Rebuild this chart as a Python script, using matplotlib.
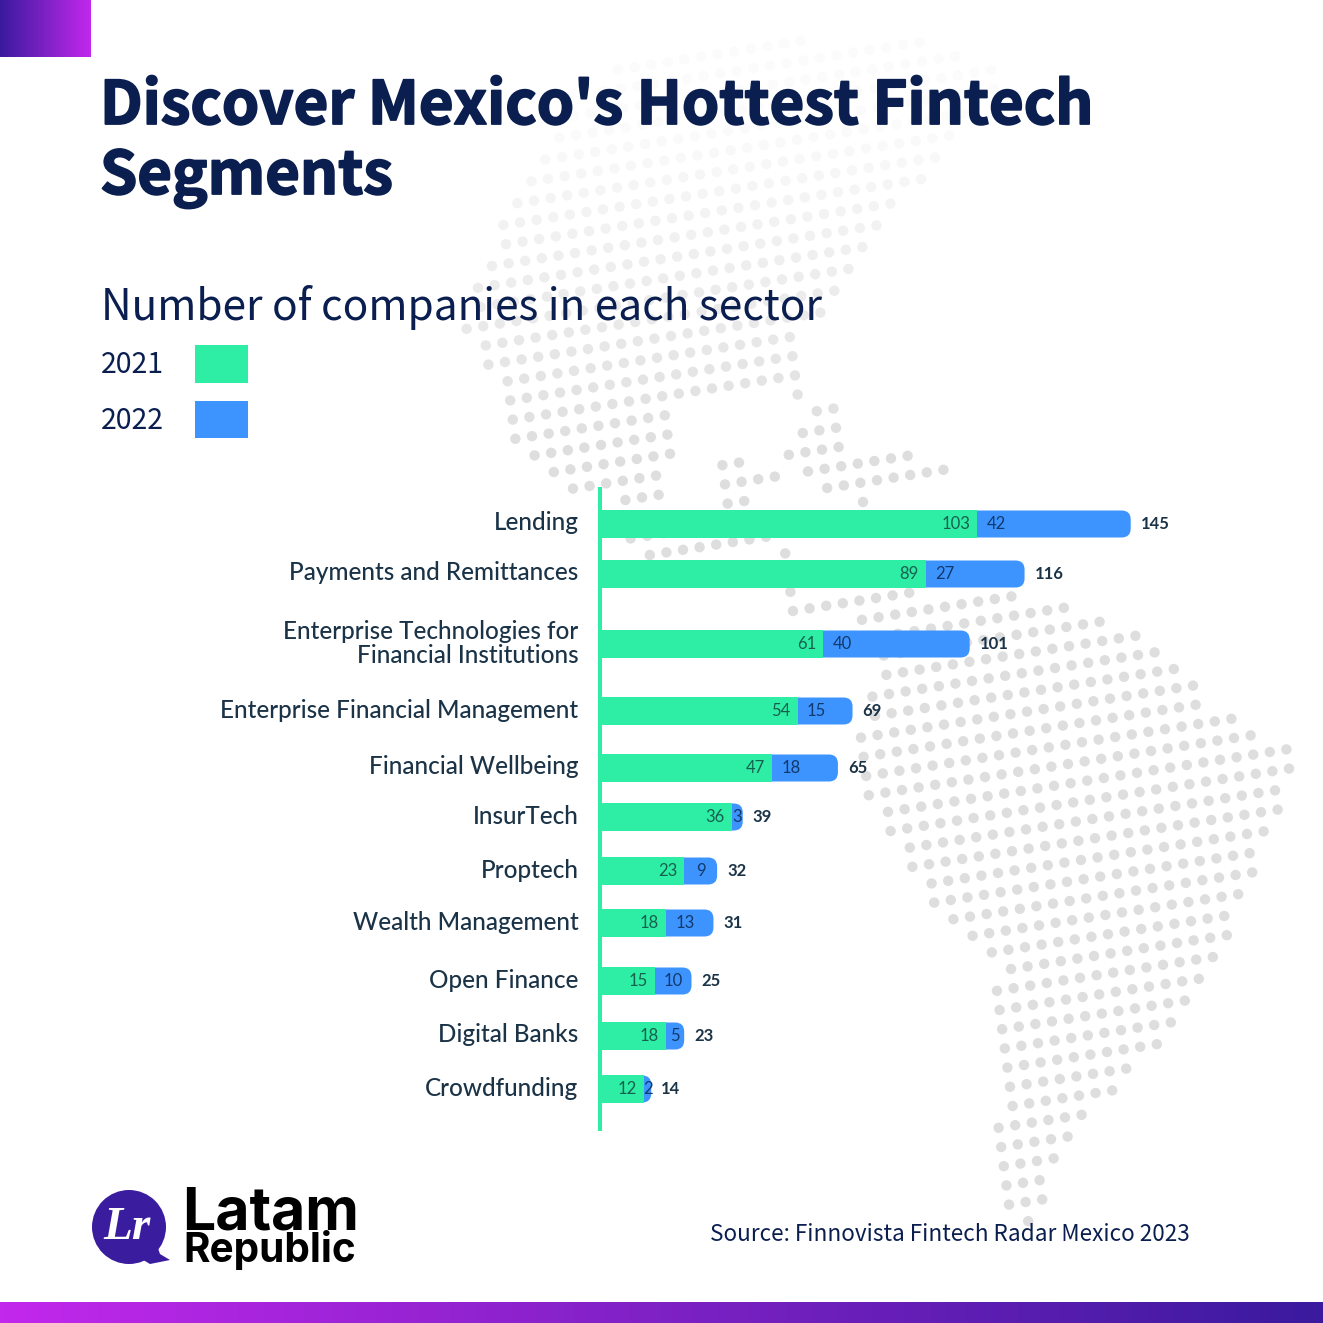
import numpy as np
import matplotlib
matplotlib.use("Agg")
import matplotlib.pyplot as plt
import matplotlib.patheffects as pe
from matplotlib.colors import LinearSegmentedColormap
from matplotlib.patches import FancyBboxPatch, Circle, Polygon, Patch
from matplotlib.path import Path
from matplotlib.transforms import ScaledTranslation

# ---- data ----
categories = ["Lending", "Payments and Remittances",
              "Enterprise Technologies for\nFinancial Institutions",
              "Enterprise Financial Management", "Financial Wellbeing", "InsurTech",
              "Proptech", "Wealth Management", "Open Finance", "Digital Banks", "Crowdfunding"]
values_2021 = [103, 89, 61, 54, 47, 36, 23, 18, 15, 18, 12]
values_2022 = [42, 27, 40, 15, 18, 3, 9, 13, 10, 5, 2]
totals = [145, 116, 101, 69, 65, 39, 32, 31, 25, 23, 14]
legend_labels = ["2021", "2022"]

# ---- layout ----
row_px = [524, 574, 644, 711, 768, 817, 871, 923, 981, 1036, 1089]
W = H = 1323
DPI = 100
PX_PER_UNIT = 3.66
BAR_H = 27
GREEN, BLUE = "#2EEDA4", "#3D94FF"
NAVY = "#0A1F4F"
INK = "#1B3347"
HEAD = ["Noto Sans CJK JP", "DejaVu Sans"]
LABEL = ["Lato", "DejaVu Sans"]

fig = plt.figure(figsize=(W / DPI, H / DPI), dpi=DPI, facecolor="white")

# ---- backdrop (pixel coordinates) ----
bg = fig.add_axes([0, 0, 1, 1], zorder=0)
bg.set_axis_off()

north = [(470, 290), (520, 180), (620, 60), (900, 30), (1010, 70), (930, 170), (860, 250), (835, 300),
         (795, 345), (805, 400), (770, 385), (680, 400), (662, 510), (600, 500), (540, 475),
         (500, 425), (490, 370), (462, 340)]
central = [(795, 440), (815, 400), (845, 400), (855, 445), (930, 455), (975, 480), (850, 505),
           (800, 470), (720, 500), (720, 460), (755, 460), (750, 500), (800, 555), (630, 555), (625, 530), (720, 510)]
south = [(775, 590), (1045, 595), (1135, 630), (1215, 705), (1300, 755), (1285, 805), (1250, 880),
         (1225, 950), (1175, 1025), (1130, 1080), (1080, 1130), (1045, 1200), (1035, 1225), (1005, 1215),
         (995, 1080), (995, 960), (930, 905), (870, 810), (858, 740), (875, 680), (880, 620), (780, 625)]
ii, jj = np.meshgrid(np.arange(-10, 90), np.arange(-10, 80))
gx = (ii * 16.6 + jj * 2.6 + 300).ravel()
gy = (jj * 19.2 - ii * 2.6 + 100).ravel()
pts = np.column_stack([gx, gy])
mask = Path(north).contains_points(pts) | Path(central).contains_points(pts) | Path(south).contains_points(pts)
px, py = gx[mask], gy[mask]
shade = np.clip((py - 120) / 330, 0, 1)
cols = np.repeat((0.985 - 0.115 * shade)[:, None], 3, axis=1)
bg.scatter(px, py, s=56, c=cols, linewidths=0, zorder=1)

grad_a = LinearSegmentedColormap.from_list("a", ["#3A1A9E", "#C228EC"])
grad_b = LinearSegmentedColormap.from_list("b", ["#C228EC", "#3A1A9E"])
ramp = np.linspace(0, 1, 256)[None, :]
bg.imshow(ramp, extent=(0, 91, 57, 0), cmap=grad_a, aspect="auto", zorder=2)
bg.imshow(ramp, extent=(0, W, H, 1302), cmap=grad_b, aspect="auto", zorder=2)

# titles
heavy = [pe.withStroke(linewidth=1.3, foreground=NAVY)]
bg.text(100, 124, "Discover Mexico's Hottest Fintech", family=HEAD, weight="bold", fontsize=43.0,
        color=NAVY, va="baseline", zorder=3, path_effects=heavy)
bg.text(100, 194, "Segments", family=HEAD, weight="bold", fontsize=43.0, color=NAVY, va="baseline",
        zorder=3, path_effects=heavy)
bg.text(101, 320, "Number of companies in each sector", family=HEAD, fontsize=30.5, color=NAVY,
        va="baseline", zorder=3)
bg.text(710, 1241, "Source: Finnovista Fintech Radar Mexico 2023", family=HEAD, fontsize=16.25, color=NAVY,
        va="baseline", zorder=3)

# logo
bg.add_patch(Circle((129, 1227), 37, fc="#3A1D9E", ec="none", zorder=3))
bg.add_patch(Polygon([(155, 1240), (160, 1254), (170, 1260), (150, 1264), (135, 1255)],
                     fc="#3A1D9E", ec="none", zorder=3))
bg.text(127, 1228, "Lr", family=["Liberation Serif"], style="italic", weight="bold", fontsize=34, color="white",
        ha="center", va="center", zorder=4)
bg.text(182, 1230, "Latam", family=["Inter", "DejaVu Sans"], weight="bold", fontsize=42.4, color="black",
        va="baseline", zorder=3)
bg.text(183, 1262, "Republic", family=["Inter", "DejaVu Sans"], weight="bold", fontsize=29.2, color="black",
        va="baseline", zorder=3)

bg.set_xlim(0, W)
bg.set_ylim(H, 0)

# ---- chart ----
TOP, BOTTOM, LEFT = 489, 1129, 600
ax = fig.add_axes([LEFT / W, 1 - BOTTOM / H, 1 - LEFT / W, (BOTTOM - TOP) / H], zorder=1)
ax.patch.set_alpha(0)
ax.set_xlim(0, (W - LEFT) / PX_PER_UNIT)
ax.set_ylim(BOTTOM, TOP)
for name in ("top", "right", "bottom"):
    ax.spines[name].set_visible(False)
ax.spines["left"].set_color(GREEN)
ax.spines["left"].set_linewidth(2.9)
ax.set_xticks([])
ax.set_yticks(row_px, categories)
ax.tick_params(axis="y", length=0, pad=15.5)
shift = ScaledTranslation(0, 3 / DPI, fig.dpi_scale_trans)
for lab in ax.get_yticklabels():
    lab.set_fontfamily(LABEL)
    lab.set_fontsize(17.5)
    lab.set_fontweight("medium")
    lab.set_color(INK)
    lab.set_multialignment("right")
    lab.set_linespacing(1.05)
    lab.set_transform(lab.get_transform() + shift)

radius_u = 9 / PX_PER_UNIT
for y, g, b, t in zip(row_px, values_2021, values_2022, totals):
    # blue segment with rounded right end; its left part sits under the green bar
    start = g - radius_u
    ax.add_patch(FancyBboxPatch((start, y - BAR_H / 2), g + b - start, BAR_H,
                                boxstyle=f"round,pad=0,rounding_size={radius_u}",
                                mutation_aspect=PX_PER_UNIT, fc=BLUE, ec="none", zorder=2))
    ax.barh(y, g, left=0, height=BAR_H + 1, color=GREEN, zorder=3)
    ax.text(g - 7 / PX_PER_UNIT, y, str(g), ha="right", va="center", family=LABEL, fontsize=12,
            color="#17604F", zorder=4)
    ax.text(g + min(b / 2, 5.2), y, str(b), ha="center", va="center", family=LABEL, fontsize=12,
            color="#12396B", zorder=4)
    ax.text(t + 10 / PX_PER_UNIT, y, str(t), ha="left", va="center", family=LABEL, fontsize=12,
            weight="bold", color=INK, zorder=4)

handles = [Patch(fc=GREEN, ec="none"), Patch(fc=BLUE, ec="none")]
leg = fig.legend(handles, legend_labels, loc="upper left", bbox_to_anchor=(101 / W, 1 - 345 / H),
                 markerfirst=False, frameon=False, prop={"family": HEAD, "size": 20.5},
                 handlelength=1.85, handleheight=1.67, handletextpad=1.1, labelspacing=0.62,
                 borderpad=0, borderaxespad=0)
for txt in leg.get_texts():
    txt.set_color(NAVY)

fig.savefig("out.png", dpi=DPI)
